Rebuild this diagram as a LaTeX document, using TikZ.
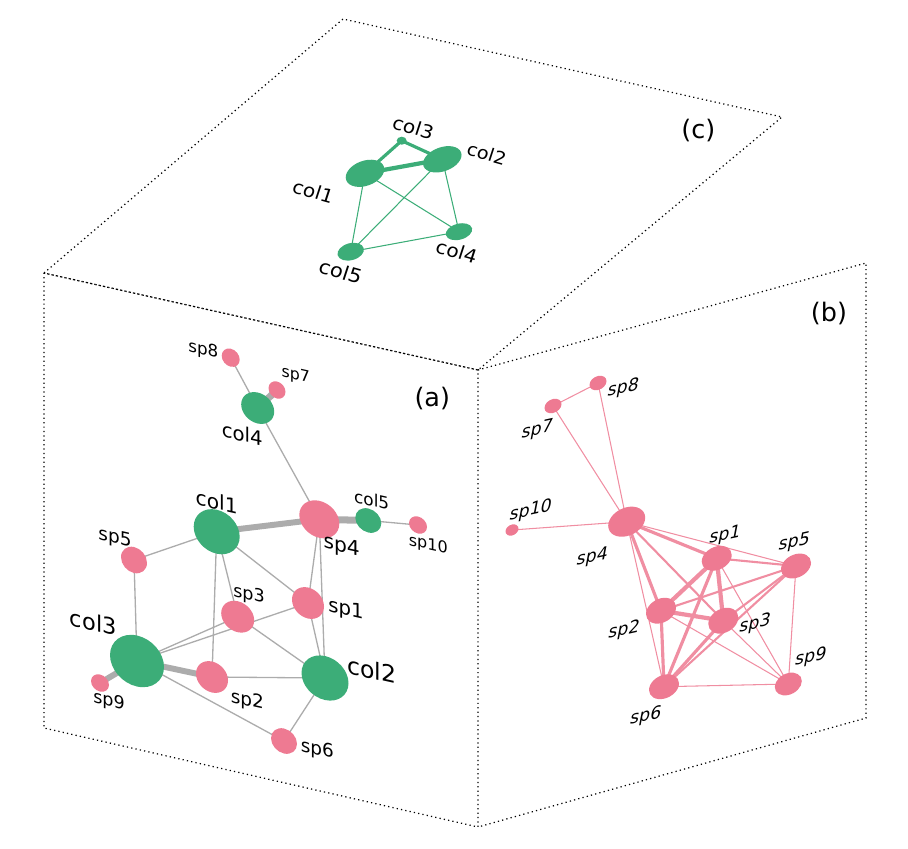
\documentclass[tikz,border=0pt]{standalone}
\usepackage{fontspec}
\setmainfont{DejaVu Sans}
\usetikzlibrary{shapes.geometric,backgrounds}
\definecolor{netPink}{RGB}{238,122,146}
\definecolor{netGreen}{RGB}{60,173,120}
\definecolor{netGray}{RGB}{172,172,172}
\newcommand{\lblsize}[1]{\fontsize{#1}{#1}\selectfont}
\tikzset{
  faceline/.style={line width=0.7pt,dash pattern=on 0.7pt off 1.8pt},
  blob/.style 2 args={ellipse,draw=none,inner sep=0pt,minimum width=#1*0.02cm,minimum height=#2*0.02cm},
  spnode/.style={fill=netPink},
  colnode/.style={fill=netGreen},
  faceA/.style={yslant=-0.22},
  faceB/.style={yslant=0.22},
  tagA/.style={inner sep=0pt,yslant=-0.22},
  tagB/.style={inner sep=0pt,yslant=0.22,xslant=0.2},
  tagC/.style={inner sep=0pt,yslant=-0.28,xslant=0.3},
  tagP/.style={inner sep=0pt,font=\lblsize{14.5}},
  grayedge/.style={netGray,line width=0.75pt},
  grayfat/.style={netGray,line width=#1},
  pinkedge/.style={netPink!85,line width=#1},
  greenedge/.style={netGreen,line width=#1}
}
\begin{document}
\begin{tikzpicture}[x=0.02cm,y=-0.02cm,line cap=butt]
  \useasboundingbox (0,0) rectangle (908,848);
  % the three faces
  \draw[faceline] (44,273) -- (343,19) -- (782,117) -- (478,370) -- cycle;
  \draw[faceline] (44,273) -- (478,370) -- (478,827) -- (44,728) -- cycle;
  \draw[faceline] (478,370) -- (866,263) -- (866,718) -- (478,827);
  \node[tagP] (lbl-a) at (432.3,398.3) {(a)};
  \node[tagP] (lbl-b) at (829,313.3) {(b)};
  \node[tagP] (lbl-c) at (698.3,130.7) {(c)};

  % (a) bipartite network
  \node[blob={18}{18},spnode,faceA] (a-sp8) at (230.7,357.7) {};
  \node[blob={17}{17},spnode,faceA] (a-sp7) at (277,390) {};
  \node[blob={33}{31},colnode,faceA] (a-col4) at (257.7,408) {};
  \node[blob={46}{44},colnode,faceA] (a-col1) at (216.7,531.7) {};
  \node[blob={40}{37},spnode,faceA] (a-sp4) at (319.3,519.3) {};
  \node[blob={26}{24},colnode,faceA] (a-col5) at (368.3,520.5) {};
  \node[blob={18}{17},spnode,faceA] (a-sp10) at (418,525) {};
  \node[blob={26}{26},spnode,faceA] (a-sp5) at (134,560) {};
  \node[blob={33}{31},spnode,faceA] (a-sp3) at (237.7,616.7) {};
  \node[blob={32}{31},spnode,faceA] (a-sp1) at (308,603) {};
  \node[blob={54}{51},colnode,faceA] (a-col3) at (137,661) {};
  \node[blob={18}{17},spnode,faceA] (a-sp9) at (100,683) {};
  \node[blob={32}{31},spnode,faceA] (a-sp2) at (212,677) {};
  \node[blob={47}{44},colnode,faceA] (a-col2) at (325,678) {};
  \node[blob={26}{25},spnode,faceA] (a-sp6) at (284,741) {};

  \node[tagA,font=\lblsize{9.5}] (a-sp8-t) at (203.3,350) {sp8};
  \node[tagA,font=\lblsize{9}] (a-sp7-t) at (295.7,375.7) {sp7};
  \node[tagA,font=\lblsize{11.2}] (a-col4-t) at (242.3,434) {col4};
  \node[tagA,font=\lblsize{11.5}] (a-col1-t) at (216.7,501.7) {col1};
  \node[tagA,font=\lblsize{11.5}] (a-sp4-t) at (341.7,546.7) {sp4};
  \node[tagA,font=\lblsize{9.6}] (a-col5-t) at (371.7,500) {col5};
  \node[tagA,font=\lblsize{9.1}] (a-sp10-t) at (428.3,545) {sp10};
  \node[tagA,font=\lblsize{10.5}] (a-sp5-t) at (115,538.3) {sp5};
  \node[tagA,font=\lblsize{10}] (a-sp3-t) at (249,595) {sp3};
  \node[tagA,font=\lblsize{11.2}] (a-sp1-t) at (346,610) {sp1};
  \node[tagA,font=\lblsize{12.8}] (a-col3-t) at (93.3,622.3) {col3};
  \node[tagA,font=\lblsize{10}] (a-sp9-t) at (109,701.7) {sp9};
  \node[tagA,font=\lblsize{10.5}] (a-sp2-t) at (247.3,700.7) {sp2};
  \node[tagA,font=\lblsize{13.4}] (a-col2-t) at (372,670) {col2};
  \node[tagA,font=\lblsize{10.5}] (a-sp6-t) at (317.3,750) {sp6};

  \begin{pgfonlayer}{background}
    \draw[grayedge] (a-sp8.center) -- (a-col4.center);
    \draw[grayedge] (a-col4.center) -- (a-sp4.center);
    \draw[grayedge] (a-col5.center) -- (a-sp10.center);
    \draw[grayedge] (a-col1.center) -- (a-sp5.center);
    \draw[grayedge] (a-sp5.center) -- (a-col3.center);
    \draw[grayedge] (a-col1.center) -- (a-sp3.center);
    \draw[grayedge] (a-col1.center) -- (a-sp2.center);
    \draw[grayedge] (a-col1.center) -- (a-sp1.center);
    \draw[grayedge] (a-sp4.center) -- (a-sp1.center);
    \draw[grayedge] (a-sp4.center) -- (a-col2.center);
    \draw[grayedge] (a-sp1.center) -- (a-col2.center);
    \draw[grayedge] (a-col3.center) -- (a-sp3.center);
    \draw[grayedge] (a-col3.center) -- (a-sp1.center);
    \draw[grayedge] (a-sp3.center) -- (a-col2.center);
    \draw[grayedge] (a-sp2.center) -- (a-col2.center);
    \draw[grayedge] (a-col3.center) -- (a-sp6.center);
    \draw[grayedge] (a-col2.center) -- (a-sp6.center);
    \draw[grayfat=4pt] (a-col4.center) -- (a-sp7.center);
    \draw[grayfat=3.4pt] (a-col1.center) -- (a-sp4.center);
    \draw[grayfat=4pt] (a-sp4.center) -- (a-col5.center);
    \draw[grayfat=3.4pt] (a-col3.center) -- (a-sp2.center);
    \draw[grayfat=3.4pt] (a-col3.center) -- (a-sp9.center);
  \end{pgfonlayer}

  % (b) species projection
  \node[blob={17}{14},spnode,faceB] (b-sp8) at (598,383) {};
  \node[blob={17}{14},spnode,faceB] (b-sp7) at (553,406) {};
  \node[blob={37}{29},spnode,faceB] (b-sp4) at (626.7,521.7) {};
  \node[blob={13}{11},spnode,faceB] (b-sp10) at (512,530) {};
  \node[blob={30}{24},spnode,faceB] (b-sp1) at (716.7,558.3) {};
  \node[blob={30}{24},spnode,faceB] (b-sp5) at (796,566) {};
  \node[blob={30}{25},spnode,faceB] (b-sp2) at (661,610.7) {};
  \node[blob={30}{25},spnode,faceB] (b-sp3) at (723.3,620.7) {};
  \node[blob={27}{22},spnode,faceB] (b-sp9) at (788.3,684) {};
  \node[blob={30}{24},spnode,faceB] (b-sp6) at (664,686.7) {};

  \node[tagB,font=\lblsize{9.8}] (b-sp7-t) at (537.3,430) {sp7};
  \node[tagB,font=\lblsize{9.8}] (b-sp8-t) at (623.3,388.3) {sp8};
  \node[tagB,font=\lblsize{9.8}] (b-sp10-t) at (530.7,510.7) {sp10};
  \node[tagB,font=\lblsize{9.8}] (b-sp4-t) at (592.3,557.3) {sp4};
  \node[tagB,font=\lblsize{9.8}] (b-sp1-t) at (725,535.7) {sp1};
  \node[tagB,font=\lblsize{9.8}] (b-sp5-t) at (794.3,542.3) {sp5};
  \node[tagB,font=\lblsize{9.8}] (b-sp2-t) at (624,630.7) {sp2};
  \node[tagB,font=\lblsize{9.8}] (b-sp3-t) at (755,624) {sp3};
  \node[tagB,font=\lblsize{9.8}] (b-sp9-t) at (810.7,657.3) {sp9};
  \node[tagB,font=\lblsize{9.8}] (b-sp6-t) at (645.7,716.7) {sp6};

  \begin{pgfonlayer}{background}
    \draw[pinkedge=0.6pt] (b-sp7.center) -- (b-sp8.center);
    \draw[pinkedge=0.6pt] (b-sp7.center) -- (b-sp4.center);
    \draw[pinkedge=0.6pt] (b-sp8.center) -- (b-sp4.center);
    \draw[pinkedge=0.6pt] (b-sp10.center) -- (b-sp4.center);
    \draw[pinkedge=0.6pt] (b-sp4.center) -- (b-sp5.center);
    \draw[pinkedge=0.6pt] (b-sp4.center) -- (b-sp6.center);
    \draw[pinkedge=0.6pt] (b-sp1.center) -- (b-sp9.center);
    \draw[pinkedge=0.6pt] (b-sp2.center) -- (b-sp9.center);
    \draw[pinkedge=0.6pt] (b-sp3.center) -- (b-sp9.center);
    \draw[pinkedge=0.6pt] (b-sp5.center) -- (b-sp9.center);
    \draw[pinkedge=0.6pt] (b-sp6.center) -- (b-sp9.center);
    \draw[pinkedge=1.2pt] (b-sp1.center) -- (b-sp5.center);
    \draw[pinkedge=1.2pt] (b-sp2.center) -- (b-sp5.center);
    \draw[pinkedge=1.2pt] (b-sp3.center) -- (b-sp5.center);
    \draw[pinkedge=1.2pt] (b-sp5.center) -- (b-sp6.center);
    \draw[pinkedge=1.2pt] (b-sp4.center) -- (b-sp3.center);
    \draw[pinkedge=1.8pt] (b-sp4.center) -- (b-sp1.center);
    \draw[pinkedge=1.8pt] (b-sp4.center) -- (b-sp2.center);
    \draw[pinkedge=1.8pt] (b-sp1.center) -- (b-sp6.center);
    \draw[pinkedge=1.8pt] (b-sp2.center) -- (b-sp6.center);
    \draw[pinkedge=1.8pt] (b-sp3.center) -- (b-sp6.center);
    \draw[pinkedge=2.4pt] (b-sp1.center) -- (b-sp2.center);
    \draw[pinkedge=2.4pt] (b-sp1.center) -- (b-sp3.center);
    \draw[pinkedge=2.4pt] (b-sp2.center) -- (b-sp3.center);
  \end{pgfonlayer}

  % (c) collector projection
  \node[blob={10}{8},colnode] (c-col3) at (401.7,140.7) {};
  \node[blob={40}{24},colnode,rotate=20] (c-col2) at (442.3,159.3) {};
  \node[blob={40}{25},colnode,rotate=20] (c-col1) at (365,173.3) {};
  \node[blob={27}{16},colnode,rotate=15] (c-col4) at (459,231.7) {};
  \node[blob={27}{17},colnode,rotate=15] (c-col5) at (350.7,251.7) {};

  \node[tagC,font=\lblsize{11}] (c-col3-t) at (413.3,127.3) {col3};
  \node[tagC,font=\lblsize{10.5}] (c-col2-t) at (486.7,154) {col2};
  \node[tagC,font=\lblsize{11}] (c-col1-t) at (313.3,191.7) {col1};
  \node[tagC,font=\lblsize{11}] (c-col4-t) at (456.7,251.7) {col4};
  \node[tagC,font=\lblsize{11.5}] (c-col5-t) at (340.7,271.7) {col5};

  \begin{pgfonlayer}{background}
    \draw[greenedge=2.4pt] (c-col1.center) -- (c-col2.center);
    \draw[greenedge=1.8pt] (c-col1.center) -- (c-col3.center);
    \draw[greenedge=1.8pt] (c-col3.center) -- (c-col2.center);
    \draw[greenedge=0.6pt] (c-col1.center) -- (c-col5.center);
    \draw[greenedge=0.6pt] (c-col1.center) -- (c-col4.center);
    \draw[greenedge=0.6pt] (c-col2.center) -- (c-col5.center);
    \draw[greenedge=0.6pt] (c-col2.center) -- (c-col4.center);
    \draw[greenedge=0.6pt] (c-col5.center) -- (c-col4.center);
  \end{pgfonlayer}
\end{tikzpicture}
\end{document}
